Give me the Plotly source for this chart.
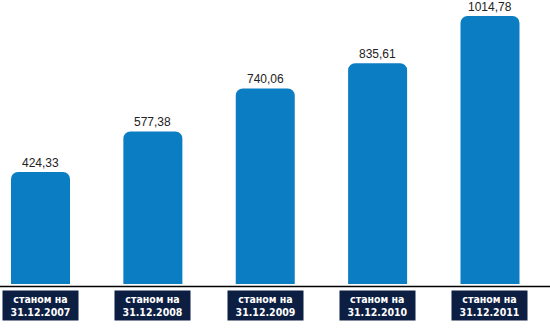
import plotly.graph_objects as go

categories = ["станом на<br>31.12.2007", "станом на<br>31.12.2008", "станом на<br>31.12.2009",
              "станом на<br>31.12.2010", "станом на<br>31.12.2011"]
values = [424.33, 577.38, 740.06, 835.61, 1014.78]
value_labels = ["424,33", "577,38", "740,06", "835,61", "1014,78"]

xpos = list(range(len(categories)))

fig = go.Figure()
fig.add_trace(go.Bar(
    x=xpos, y=values, width=0.525,
    marker=dict(color="#0a7dc3", line=dict(width=0)),
    hoverinfo="skip",
))

for xi, v, lab in zip(xpos, values, value_labels):
    fig.add_annotation(
        x=xi, xref="x", y=v, yref="y", yanchor="bottom", yshift=0,
        text=lab, showarrow=False,
        font=dict(family="Liberation Sans, Arial, sans-serif", size=12, color="#222222"),
    )

for xi, lab in zip(xpos, categories):
    fig.add_annotation(
        x=xi, xref="x", y=0, yref="paper", yanchor="middle", yshift=-21,
        text="<b>" + lab + "</b>", showarrow=False,
        font=dict(family="Liberation Sans Narrow, DejaVu Sans Condensed, Liberation Sans, sans-serif",
                  size=10.5, color="white"),
        bgcolor="#0c1e42", width=75, height=29, borderpad=0, align="center",
    )

fig.add_shape(type="line", xref="paper", yref="paper", x0=0, x1=1,
              y0=-0.0088, y1=-0.0088, line=dict(color="black", width=1.5))

fig.update_layout(
    width=550, height=335,
    margin=dict(l=0, r=0, t=0, b=51),
    paper_bgcolor="white", plot_bgcolor="white",
    barcornerradius=7,
    showlegend=False,
    xaxis=dict(range=[-0.3604, 4.534], visible=False, fixedrange=True),
    yaxis=dict(range=[0, 1075], visible=False, fixedrange=True),
)

fig.write_html("out.html")
